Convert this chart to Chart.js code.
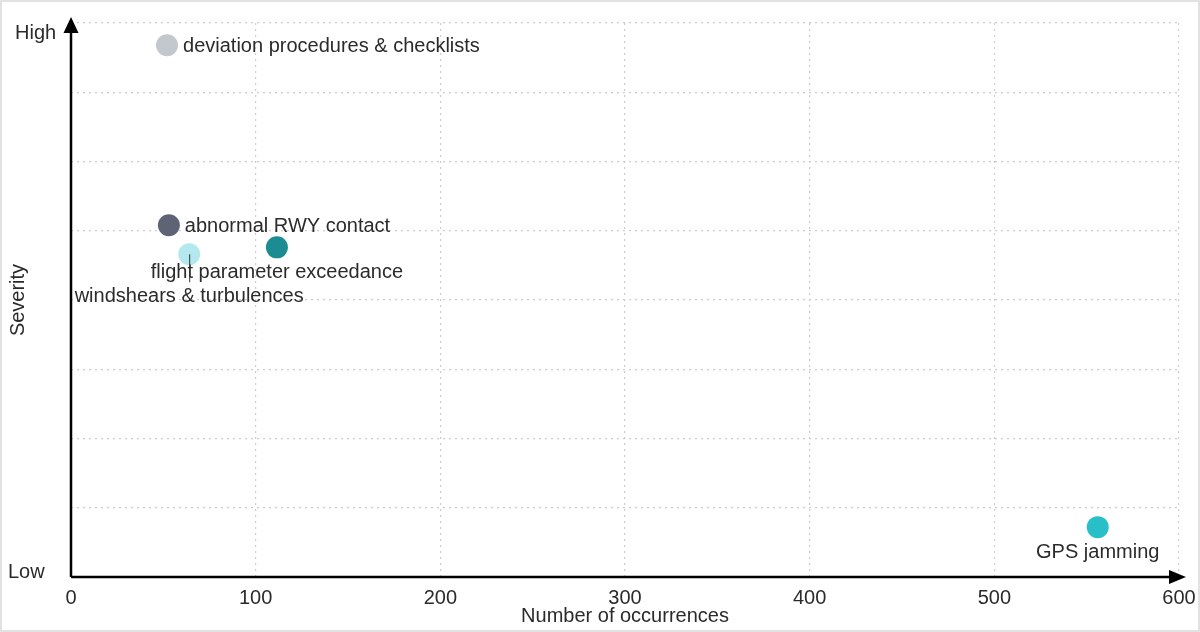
<!DOCTYPE html>
<html>
<head>
<meta charset="utf-8">
<title>Severity vs occurrences</title>
<script src="https://cdn.jsdelivr.net/npm/chart.js@4.4.1/dist/chart.umd.min.js"></script>
<style>
  html, body { margin: 0; padding: 0; background: #fff; }
  #wrap { width: 1200px; height: 632px; }
</style>
</head>
<body>
<div id="wrap"><canvas id="scatterChart" width="1200" height="632"></canvas></div>
<script>
(function () {
    "use strict";

// data
var categories = ["deviation procedures & checklists", "abnormal RWY contact", "flight parameter exceedance", "windshears & turbulences", "GPS jamming"];
var occurrences = [52, 53, 111.5, 64, 556];
var severity = [7.68, 5.08, 4.76, 4.66, 0.72];
var pointColors = ["#c3c7ce", "#5e6476", "#1b8c91", "#b3e9ee", "#29bfc9"];
var xTicks = [0, 100, 200, 300, 400, 500, 600];
var yTickLabels = ["Low", "High"];

// where each label goes relative to its point
var labelPlacement = ["right", "right", "below", "belowLeader", "below"];

var textColor = "#2b2b2b";
var fontFamily = "'Liberation Sans', Arial, sans-serif";
var fontSize = 20;

var pointLabels = {
    id: "pointLabels",
    afterDatasetsDraw: function (chart) {
        var ctx = chart.ctx;
        var meta = chart.getDatasetMeta(0);
        ctx.save();
        ctx.font = fontSize + "px " + fontFamily;
        ctx.fillStyle = textColor;
        meta.data.forEach(function (pt, i) {
            var p = labelPlacement[i];
            if (p === "right") {
                ctx.textAlign = "left";
                ctx.textBaseline = "middle";
                ctx.fillText(categories[i], pt.x + 16, pt.y + 1);
            } else if (p === "below") {
                ctx.textAlign = "center";
                ctx.textBaseline = "middle";
                ctx.fillText(categories[i], pt.x, pt.y + 25);
            } else {
                ctx.strokeStyle = "#333";
                ctx.lineWidth = 1;
                ctx.beginPath();
                ctx.moveTo(pt.x + 0.5, pt.y);
                ctx.lineTo(pt.x + 0.5, pt.y + 28);
                ctx.stroke();
                ctx.textAlign = "center";
                ctx.textBaseline = "middle";
                ctx.fillText(categories[i], pt.x, pt.y + 42);
            }
        });
        ctx.restore();
    }
};

var axesArrows = {
    id: "axesArrows",
    beforeDraw: function (chart) {
        var ctx = chart.ctx;
        ctx.save();
        ctx.strokeStyle = "#e2e2e2";
        ctx.lineWidth = 2;
        ctx.strokeRect(1, 1, chart.width - 2, chart.height - 2);
        ctx.restore();
    },
    afterDraw: function (chart) {
        var ctx = chart.ctx;
        var a = chart.chartArea;
        var x0 = a.left, y0 = a.bottom;
        ctx.save();
        ctx.strokeStyle = "#000";
        ctx.fillStyle = "#000";
        ctx.lineWidth = 2.5;
        ctx.beginPath();
        ctx.moveTo(x0, y0);
        ctx.lineTo(x0, a.top - 2);
        ctx.moveTo(x0, y0);
        ctx.lineTo(a.right + 2, y0);
        ctx.stroke();
        // arrow heads
        ctx.beginPath();
        ctx.moveTo(x0, a.top - 6);
        ctx.lineTo(x0 - 7.5, a.top + 10);
        ctx.lineTo(x0 + 7.5, a.top + 10);
        ctx.closePath();
        ctx.fill();
        ctx.beginPath();
        ctx.moveTo(a.right + 7, y0);
        ctx.lineTo(a.right - 10, y0 - 7);
        ctx.lineTo(a.right - 10, y0 + 7);
        ctx.closePath();
        ctx.fill();
        // Low / High labels on the severity axis
        var ys = chart.scales.y;
        ctx.font = fontSize + "px " + fontFamily;
        ctx.fillStyle = textColor;
        ctx.textAlign = "left";
        ctx.textBaseline = "middle";
        ctx.fillText(yTickLabels[0], 8, ys.getPixelForValue(ys.min) - 5);
        ctx.fillText(yTickLabels[1], 15, ys.getPixelForValue(ys.max) + 10);
        ctx.restore();
    }
};

var ctx = document.getElementById("scatterChart");
var myChart = new Chart(ctx, {
    type: "scatter",
    data: {
        datasets: [{
            label: "Occurrences",
            data: occurrences.map(function (v, i) { return { x: v, y: severity[i] }; }),
            pointBackgroundColor: pointColors,
            pointBorderColor: pointColors,
            pointBorderWidth: 0,
            pointRadius: 11,
            pointHoverRadius: 11
        }]
    },
    options: {
        responsive: false,
        animation: false,
        layout: {
            padding: { top: 23, right: 21, bottom: 0, left: 0 }
        },
        plugins: {
            legend: { display: false },
            tooltip: { enabled: false }
        },
        scales: {
            x: {
                type: "linear",
                min: xTicks[0],
                max: xTicks[xTicks.length - 1],
                afterBuildTicks: function (scale) {
                    scale.ticks = xTicks.map(function (v) { return { value: v }; });
                },
                afterFit: function (scale) {
                    scale.height = 55;
                    scale.paddingLeft = 0;
                    scale.paddingRight = 0;
                },
                grid: {
                    color: "#cdcdcd",
                    lineWidth: 1.2,
                    drawTicks: false
                },
                border: { display: false, dash: [2, 4] },
                ticks: {
                    padding: 9,
                    color: textColor,
                    font: { size: fontSize, family: fontFamily }
                },
                title: {
                    display: true,
                    text: "Number of occurrences",
                    color: textColor,
                    font: { size: fontSize, family: fontFamily },
                    padding: { top: 0, bottom: 4 }
                }
            },
            y: {
                type: "linear",
                min: 0,
                max: 8,
                ticks: { display: false, stepSize: 1 },
                afterFit: function (scale) { scale.width = 71; },
                grid: {
                    color: "#cdcdcd",
                    lineWidth: 1.2,
                    drawTicks: false
                },
                border: { display: false, dash: [2, 4] },
                title: {
                    display: true,
                    text: "Severity",
                    color: textColor,
                    font: { size: fontSize, family: fontFamily },
                    padding: { top: 6, bottom: 0 }
                }
            }
        }
    },
    plugins: [axesArrows, pointLabels]
});

})();
</script>
</body>
</html>
